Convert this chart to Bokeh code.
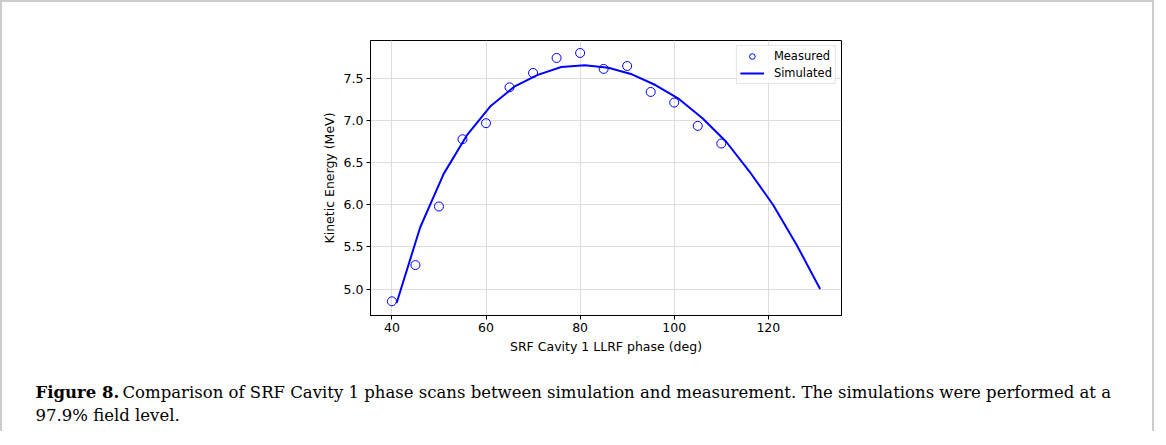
from bokeh.plotting import figure
from bokeh.layouts import column
from bokeh.models import FixedTicker, Range1d, Legend, LegendItem, NumeralTickFormatter, ColumnDataSource
from bokeh.core.properties import value
from bokeh.embed import file_html
from bokeh.resources import INLINE

# Measured data
meas_phase = [40, 45, 50, 55, 60, 65, 70, 75, 80, 85, 90, 95, 100, 105, 110]
meas_energy = [4.854, 5.284, 5.979, 6.777, 6.967, 7.393, 7.563, 7.741, 7.800,
               7.611, 7.646, 7.338, 7.212, 6.935, 6.726]

# Simulated data
sim_phase = [41, 46, 51, 56, 61, 66, 71, 76, 81, 86, 91, 96, 101, 106, 111,
             116, 121, 126, 131]
sim_energy = [4.834, 5.73, 6.366, 6.83, 7.172, 7.40, 7.54, 7.634, 7.654, 7.626,
              7.547, 7.42, 7.255, 7.026, 6.75, 6.394, 6.00, 5.526, 5.00]

x_ticks = [40, 60, 80, 100, 120]
y_ticks = [5.0, 5.5, 6.0, 6.5, 7.0, 7.5]

x_label = "SRF Cavity 1 LLRF phase (deg)"
y_label = "Kinetic Energy (MeV)"
caption_bold = "Figure 8."
caption_line1 = "Comparison of SRF Cavity 1 phase scans between simulation and measurement. The simulations were performed at a"
caption_line2 = "97.9% field level."

xmin = min(min(meas_phase), min(sim_phase))
xmax = max(max(meas_phase), max(sim_phase))
ymin = min(min(meas_energy), min(sim_energy))
ymax = max(max(meas_energy), max(sim_energy))
xpad = 0.05 * (xmax - xmin)
ypad = 0.05 * (ymax - ymin)

W = 1150
H1 = 370
H2 = 59

p = figure(width=W, height=H1, output_backend="svg", toolbar_location=None,
           x_range=Range1d(xmin - xpad, xmax + xpad),
           y_range=Range1d(ymin - ypad, ymax + ypad),
           min_border_left=368, min_border_right=311,
           min_border_top=38, min_border_bottom=57)
p.background_fill_color = "white"
p.border_fill_color = "white"
p.outline_line_color = "black"
p.outline_line_width = 1
p.outline_line_alpha = 1

FONT = "DejaVu Sans"
for ax in (p.xaxis[0], p.yaxis[0]):
    ax.major_label_text_font = FONT
    ax.major_label_text_font_size = "12.5px"
    ax.major_label_text_color = "black"
    ax.axis_label_text_font = FONT
    ax.axis_label_text_font_size = "12.5px"
    ax.axis_label_text_font_style = "normal"
    ax.axis_label_text_color = "black"
    ax.axis_line_color = "black"
    ax.major_tick_line_color = "black"
    ax.major_tick_in = 0
    ax.major_tick_out = 4
    ax.minor_tick_line_color = None
    ax.major_label_standoff = 3
    ax.axis_label_standoff = 4

p.xaxis.ticker = FixedTicker(ticks=x_ticks)
p.yaxis.ticker = FixedTicker(ticks=y_ticks)
p.yaxis.formatter = NumeralTickFormatter(format="0.0")
p.xaxis.axis_label = x_label
p.yaxis.axis_label = y_label

p.xgrid.ticker = FixedTicker(ticks=x_ticks)
p.ygrid.ticker = FixedTicker(ticks=y_ticks)
p.grid.grid_line_color = "#dddddd"
p.grid.grid_line_width = 1

r_meas = p.scatter(meas_phase, meas_energy, marker="circle", size=9,
                   fill_color=None, line_color="blue", line_width=1)
r_sim = p.line(sim_phase, sim_energy, line_color="blue", line_width=2)

legend = Legend(items=[LegendItem(label="Measured", renderers=[r_meas]),
                       LegendItem(label="Simulated", renderers=[r_sim])],
                location="top_right")
legend.label_text_font = FONT
legend.label_text_font_size = "11.5px"
legend.label_text_color = "black"
legend.glyph_width = 24
legend.glyph_height = 14
legend.label_height = 14
legend.label_standoff = 10
legend.spacing = 3
legend.padding = 3
legend.margin = 5
legend.border_line_color = "#cccccc"
legend.border_line_width = 1
legend.background_fill_alpha = 0.8
p.add_layout(legend)

# Caption panel (pixel coordinates, y measured from the top)
cap = figure(width=W, height=H2, output_backend="svg", toolbar_location=None,
             x_range=Range1d(0, W), y_range=Range1d(H2, 0),
             x_axis_type=None, y_axis_type=None,
             min_border=0, min_border_left=0, min_border_right=0,
             min_border_top=0, min_border_bottom=0)
cap.grid.visible = False
cap.outline_line_color = None
cap.background_fill_color = "white"
cap.border_fill_color = "white"
for fig in (p, cap):
    if "frame_align" in fig.properties():
        fig.frame_align = False

SERIF = "DejaVu Serif"
cap_src = ColumnDataSource(dict(x=[33, 120, 33], y=[20, 20, 43],
                                t=[caption_bold, caption_line1, caption_line2],
                                s=["bold", "normal", "normal"]))
cap.text(x="x", y="y", text="t", source=cap_src, text_font=value(SERIF),
         text_font_size="16.5px", text_font_style="s", text_color="black",
         text_baseline="alphabetic", text_align="left")

layout = column(p, cap, spacing=0,
                styles={"border-left": "2px solid #cccccc",
                        "border-top": "2px solid #cccccc",
                        "border-right": "2px solid #cccccc"})

open("out.html", "w").write(file_html(layout, INLINE))
